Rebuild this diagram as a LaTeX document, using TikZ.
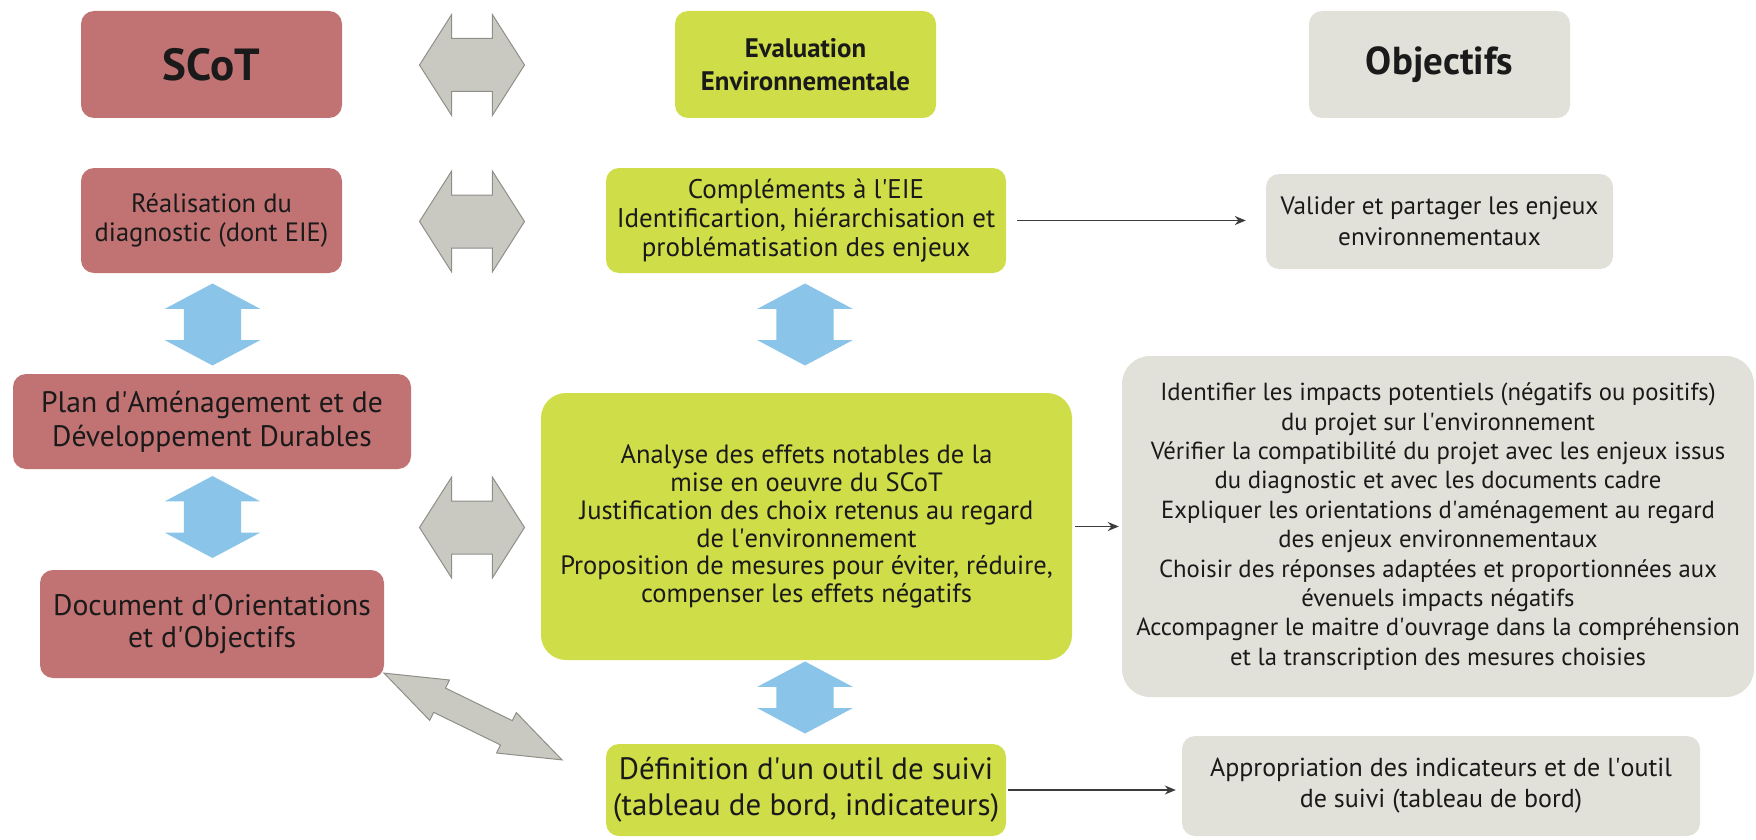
\documentclass[tikz,border=0pt]{standalone}
\usepackage{fontspec}
\setmainfont{PT Sans}
\usetikzlibrary{arrows.meta, shapes.arrows, positioning, calc}
\definecolor{Rose}   {HTML}{C17272}
\definecolor{Lime}   {HTML}{CEDD48}
\definecolor{Stone}  {HTML}{E1E1DA}
\definecolor{Pebble} {HTML}{C9C9C2}
\definecolor{PebbleD}{HTML}{8F8F8A}
\definecolor{Sky}    {HTML}{8AC4E8}
\definecolor{Ink}    {HTML}{1A1A1A}
\newcommand{\fsz}[2]{\fontsize{#1}{#2}\selectfont}
\newcommand{\ap}{\textquotesingle}
\tikzset{
  blk/.style={
    rectangle, rounded corners=13pt,
    fill=#1, text=Ink, align=center,
    inner sep=0pt,
  },
  hdr/.style={
    blk=#1, minimum width=261pt, minimum height=107pt,
  },
  % grey block arrows between the columns
  garr/.style={
    double arrow, draw=PebbleD, fill=Pebble, line width=1pt,
    inner xsep=0pt, inner ysep=26pt, double arrow tip angle=115,
    double arrow head extend=24pt,
    minimum width=100pt, minimum height=105pt,
  },
  % blue block arrows down the columns
  barr/.style={
    double arrow, fill=Sky, inner xsep=0pt, inner ysep=28.5pt, rotate=90,
    double arrow tip angle=124, double arrow head extend=19pt,
    minimum width=95pt, minimum height=82pt,
  },
  arr/.style={
    -{Stealth[length=11pt,width=9pt]},
    line width=1.6pt, color=Ink!85,
  },
}
\begin{document}
\begin{tikzpicture}[x=1pt,y=-1pt]
  \useasboundingbox (0,0) rectangle (1756,840);

  % headers
  \node[hdr=Rose,  font=\fsz{45}{52}\bfseries]   (scot)    at (211.5,64.5)  {SCoT};
  \node[hdr=Lime,  font=\fsz{26.8}{33.6}\bfseries] (evalenv) at (805.5,64.5)  {Evaluation\\Environnementale};
  \node[hdr=Stone, font=\fsz{39}{46}\bfseries]   (obj)     at (1439.5,64.5) {Objectifs};

  % SCoT column
  \node[blk=Rose, minimum width=261pt, minimum height=105pt, font=\fsz{26.5}{29}]
       (diag) at (211.5,220.5) {Réalisation du\\diagnostic (dont EIE)};
  \node[blk=Rose, minimum width=398pt, minimum height=95pt, font=\fsz{29.6}{33.6}]
       (padd) at (212,421.5) {Plan d\ap Aménagement et de\\Développement Durables};
  \node[blk=Rose, minimum width=344pt, minimum height=108pt, font=\fsz{29.7}{32.5}]
       (doo)  at (212,624) {Document d\ap Orientations\\et d\ap Objectifs};

  % evaluation column
  \node[blk=Lime, minimum width=400pt, minimum height=105pt, font=\fsz{27}{29}]
       (compl) at (806,220.5)
       {Compléments à l\ap EIE\\Identificartion, hiérarchisation et\\problématisation des enjeux};
  \node[blk=Lime, rounded corners=25pt, minimum width=531pt, minimum height=267pt,
        font=\fsz{26.5}{27.8}]
       (effets) at (806.5,526.5)
       {Analyse des effets notables de la\\mise en oeuvre du SCoT\\
        Justification des choix retenus au regard\\de l\ap environnement\\
        Proposition de mesures pour éviter, réduire,\\compenser les effets négatifs};
  \node[blk=Lime, minimum width=400pt, minimum height=92pt, font=\fsz{30.9}{36}]
       (suivi) at (806,790) {Définition d\ap un outil de suivi\\(tableau de bord, indicateurs)};

  % objectives column
  \node[blk=Stone, minimum width=347pt, minimum height=95pt, font=\fsz{25.2}{31}]
       (valid) at (1439.5,221.5) {Valider et partager les enjeux\\environnementaux};
  \node[blk=Stone, rounded corners=28pt, minimum width=632pt, minimum height=341pt,
        font=\fsz{24.7}{29.4}]
       (impacts) at (1438,526.5)
       {Identifier les impacts potentiels (négatifs ou positifs)\\du projet sur l\ap environnement\\
        Vérifier la compatibilité du projet avec les enjeux issus\\du diagnostic et avec les documents cadre\\
        Expliquer les orientations d\ap aménagement au regard\\des enjeux environnementaux\\
        Choisir des réponses adaptées et proportionnées aux\\évenuels impacts négatifs\\
        Accompagner le maitre d\ap ouvrage dans la compréhension\\et la transcription des mesures choisies};
  \node[blk=Stone, minimum width=518pt, minimum height=100pt, font=\fsz{26}{31}]
       (appro) at (1441,786) {Appropriation des indicateurs et de l\ap outil\\de suivi (tableau de bord)};

  % block arrows
  \node[garr] (g1) at (472,65)    {};
  \node[garr] (g2) at (472,221.5) {};
  \node[garr] (g3) at (472,527.5) {};
  \node[garr, rotate=-26, minimum height=198pt, minimum width=44pt, inner ysep=13pt,
        double arrow head extend=9pt, double arrow tip angle=40] (g4) at (473,716.5) {};

  \node[barr] (b1) at (212.5,324.5) {};
  \node[barr] (b2) at (805,324.5)   {};
  \node[barr] (b3) at (212.5,517)   {};
  \node[barr, minimum height=72pt] (b4) at (805,697.5) {};

  % thin arrows
  \draw[arr, shorten <=11pt, shorten >=20pt] (compl.east)  -- (valid.west|-compl.east);
  \draw[arr, shorten <=3pt,  shorten >=3pt]  (effets.east) -- (impacts.west|-effets.east);
  \draw[arr, shorten <=2pt,  shorten >=6pt]  (suivi.east)  -- (appro.west|-suivi.east);

\end{tikzpicture}
\end{document}
